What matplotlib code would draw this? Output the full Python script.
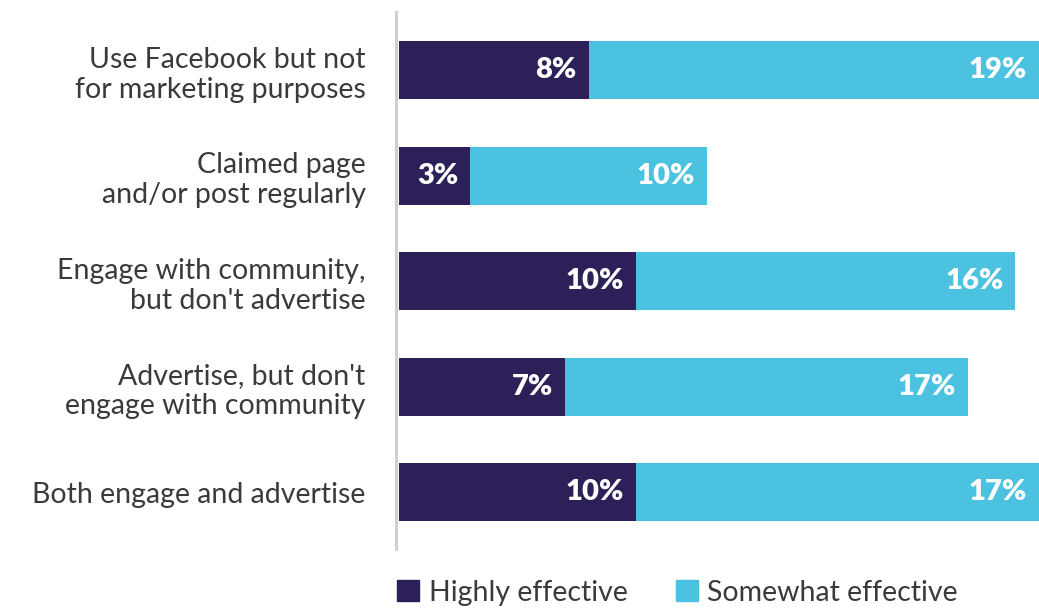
import matplotlib.pyplot as plt
from matplotlib.patches import Patch

categories = [
    "Use Facebook but not\nfor marketing purposes",
    "Claimed page\nand/or post regularly",
    "Engage with community,\nbut don't advertise",
    "Advertise, but don't\nengage with community",
    "Both engage and advertise",
]
highly = [8, 3, 10, 7, 10]
somewhat = [19, 10, 16, 17, 17]
series_names = ["Highly effective", "Somewhat effective"]

dark = "#2d1f57"
light = "#4ac2e0"
text_color = "#3a3a3a"

plt.rcParams["font.family"] = ["Lato", "DejaVu Sans"]

fig = plt.figure(figsize=(10.39, 6.08), dpi=100)
ax = fig.add_axes([399 / 1039, 59 / 608, 640 / 1039, 537 / 608])

y = list(range(len(categories)))
ax.barh(y, highly, height=0.55, color=dark)
ax.barh(y, somewhat, left=highly, height=0.55, color=light)

for i, (h, s) in enumerate(zip(highly, somewhat)):
    ax.annotate(f"{h}%", (h, i), xytext=(-8.5, 0), textcoords="offset points",
                ha="right", va="center", color="white", fontsize=21, fontweight="heavy")
    ax.annotate(f"{s}%", (h + s, i), xytext=(-8.5, 0), textcoords="offset points",
                ha="right", va="center", color="white", fontsize=21, fontweight="heavy")

ax.set_xlim(0, 27)
ax.set_ylim(4.54, -0.55)
ax.set_yticks(y)
ax.set_yticklabels(categories, linespacing=1.07)
ax.tick_params(axis="y", length=0, pad=22, labelsize=20.5, labelcolor=text_color)
ax.set_xticks([])
for side in ["top", "right", "bottom"]:
    ax.spines[side].set_visible(False)
ax.spines["left"].set_color("#d0d0d4")
ax.spines["left"].set_linewidth(2.2)
ax.spines["left"].set_position(("outward", 2))

handles = [Patch(color=dark), Patch(color=light)]
fig.legend(handles, series_names, loc="lower left", bbox_to_anchor=(397 / 1039, 0.004),
           ncol=2, frameon=False, fontsize=20.5, handlelength=0.76, handleheight=0.76,
           handletextpad=0.35, columnspacing=1.7, borderpad=0, borderaxespad=0,
           labelcolor=text_color)

fig.savefig("out.png", dpi=100)
